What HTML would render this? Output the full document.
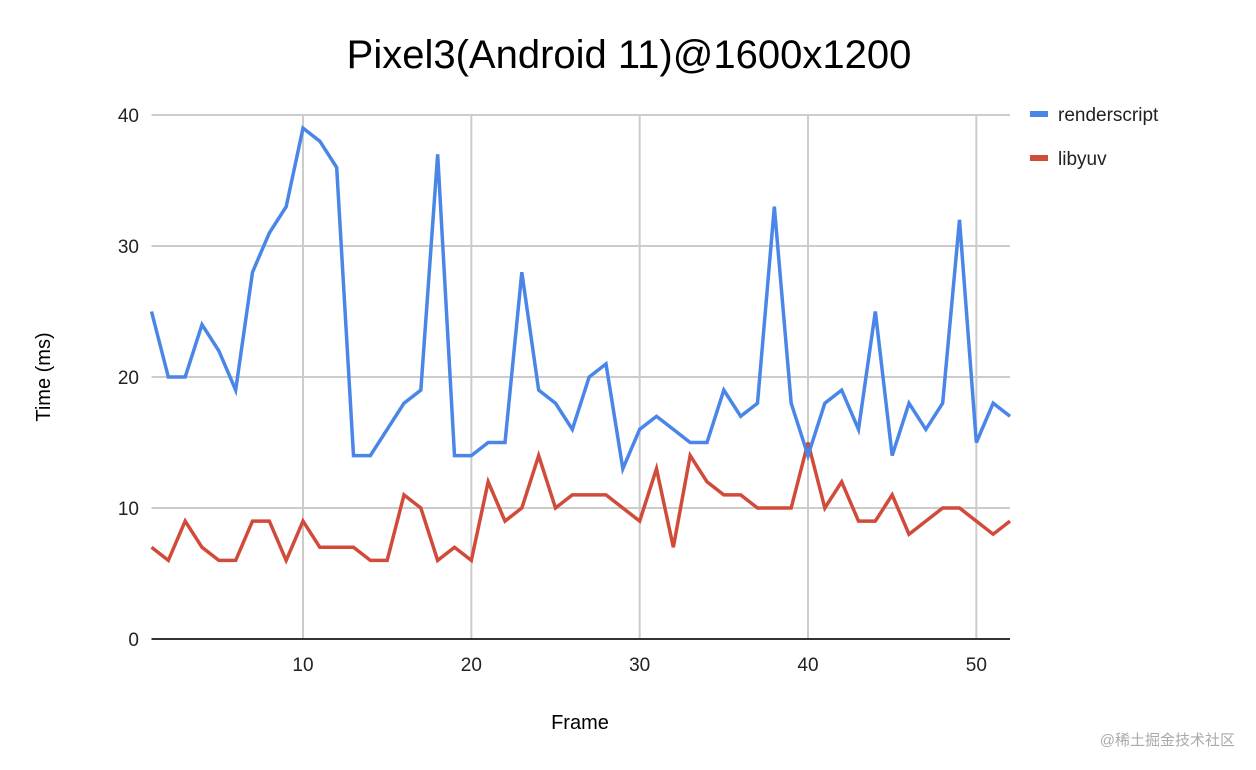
<!DOCTYPE html>
<html><head><meta charset="utf-8"><style>
html,body{margin:0;padding:0;background:#fff;}
svg{display:block;font-family:"Liberation Sans","Noto Sans CJK SC",sans-serif;}
</style></head><body>
<svg id="chart" width="1256" height="770" viewBox="0 0 1256 770">
<text x="629" y="68" font-size="40" text-anchor="middle" fill="#000">Pixel3(Android 11)@1600x1200</text>
<g id="grid"></g>
<g id="ticks"></g>
<g id="series"></g>
<text x="50" y="377" font-size="20" text-anchor="middle" transform="rotate(-90 50 377)" fill="#000">Time (ms)</text>
<text x="580" y="729" font-size="20" text-anchor="middle" fill="#000">Frame</text>
<g>
<g>
<rect x="1030" y="111" width="18" height="6" fill="#4a86e8"/>
<text x="1058" y="121" font-size="19" fill="#222">renderscript</text></g>
<g>
<rect x="1030" y="155" width="18" height="6" fill="#d14b3b"/>
<text x="1058" y="165" font-size="19" fill="#222">libyuv</text></g>
</g>
<text x="1235" y="745" font-size="15" text-anchor="end" fill="#aaa">@稀土掘金技术社区</text>
</svg>
<script>
const frames = Array.from({length:52},(_,i)=>i+1);
const renderscript = [25,20,20,24,22,19,28,31,33,39,38,36,14,14,16,18,19,37,14,14,15,15,28,19,18,16,20,21,13,16,17,16,15,15,19,17,18,33,18,14,18,19,16,25,14,18,16,18,32,15,18,17];
const libyuv = [7,6,9,7,6,6,9,9,6,9,7,7,7,6,6,11,10,6,7,6,12,9,10,14,10,11,11,11,10,9,13,7,14,12,11,11,10,10,10,15,10,12,9,9,11,8,9,10,10,9,8,9];
const yTicks = [0,10,20,30,40];
const xTicks = [10,20,30,40,50];
const NS="http://www.w3.org/2000/svg";
const L=151.5,R=1010,T=115,B=639;
const xs=v=>L+(v-1)*(R-L)/51;
const ys=v=>B-v*(B-T)/40;
const grid=document.getElementById('grid'),ticks=document.getElementById('ticks'),series=document.getElementById('series');
function mk(tag,attrs,parent){const e=document.createElementNS(NS,tag);for(const k in attrs)e.setAttribute(k,attrs[k]);parent.appendChild(e);return e;}
yTicks.forEach(v=>{
  if(v>0){const g=mk('line',{x1:L,x2:R,y1:ys(v),y2:ys(v),stroke:'#ccc','stroke-width':2},grid);
  
  }
  const t=mk('text',{x:139,y:ys(v)+7,'font-size':19,'text-anchor':'end',fill:'#222'},ticks);t.textContent=v;
  
  
});
xTicks.forEach(v=>{
  const g=mk('line',{x1:xs(v),x2:xs(v),y1:T,y2:B,stroke:'#ccc','stroke-width':2},grid);
  
  
  const t=mk('text',{x:xs(v),y:671,'font-size':19,'text-anchor':'middle',fill:'#222'},ticks);t.textContent=v;
  
  
});
const ax=mk('line',{x1:L,x2:R,y1:B,y2:B,stroke:'#333','stroke-width':2},grid);


function line(data,color,name){
  const p=mk('polyline',{points:data.map((v,i)=>xs(frames[i])+','+ys(v)).join(' '),fill:'none',stroke:color,'stroke-width':3.5,'stroke-linejoin':'miter'},series);
  
  
}
line(libyuv,'#d14b3b','libyuv-line');
line(renderscript,'#4a86e8','renderscript-line');
</script>
</body></html>
